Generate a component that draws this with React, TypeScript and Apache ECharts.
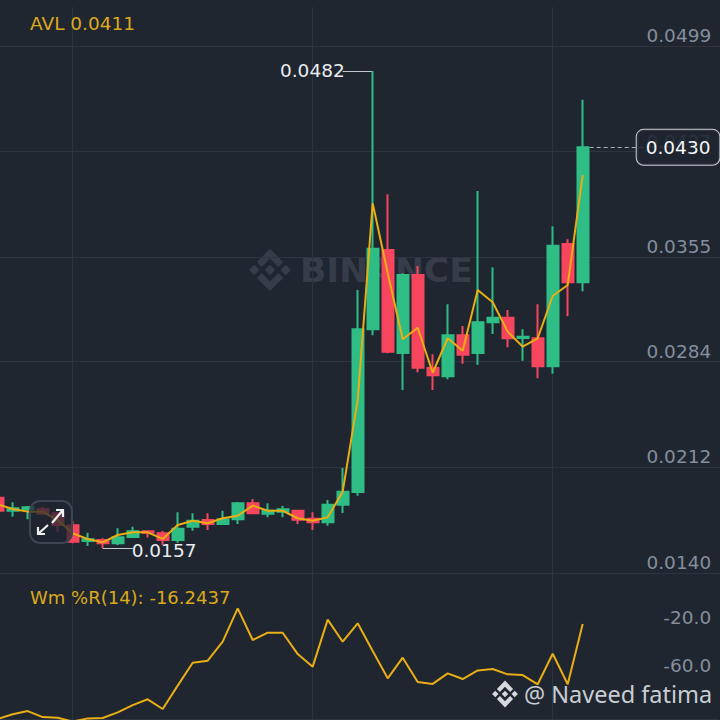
import React, { useEffect, useRef } from "react";
import * as echarts from "echarts";

const opens = [0.01913,0.01824,0.01834,0.01834,0.01807,0.01725,0.01618,0.01625,0.01602,0.01645,0.01684,0.01671,0.01625,0.01715,0.01761,0.01734,0.01766,0.01875,0.01804,0.01818,0.01824,0.0177,0.01745,0.01865,0.01952,0.0306,0.036,0.02899,0.0343,0.02797,0.0274,0.03019,0.02899,0.03108,0.03139,0.03001,0.02999,0.02808,0.03641,0.0338];
const closes = [0.01824,0.01841,0.01848,0.01804,0.01727,0.01613,0.0163,0.01602,0.01643,0.01684,0.01675,0.01625,0.01702,0.01756,0.01734,0.01766,0.01875,0.01807,0.01824,0.01834,0.01763,0.01745,0.01865,0.01954,0.0306,0.03609,0.02908,0.0343,0.02799,0.02747,0.03019,0.02887,0.03108,0.03139,0.02999,0.0301,0.02808,0.0363,0.0338,0.043];
const lows = [0.01802,0.01784,0.01766,0.01795,0.01681,0.01602,0.01584,0.01568,0.01591,0.01641,0.01641,0.01591,0.01606,0.01688,0.01693,0.01727,0.01734,0.01802,0.01779,0.01779,0.01734,0.01693,0.01722,0.01809,0.01927,0.03019,0.02897,0.02647,0.02767,0.02647,0.0272,0.02826,0.02819,0.03028,0.02937,0.02846,0.02726,0.02758,0.03149,0.03319];
const highs = [0.01925,0.01882,0.01856,0.01852,0.01811,0.01754,0.01675,0.01636,0.01705,0.01715,0.01688,0.01686,0.01814,0.01807,0.01807,0.01824,0.01884,0.01904,0.01875,0.01856,0.01829,0.01814,0.01897,0.02115,0.03328,0.0482,0.0398,0.03442,0.03491,0.0289,0.0323,0.03083,0.04002,0.03482,0.03192,0.0306,0.0323,0.03762,0.03673,0.04624];
const avl = [0.01868,0.01836,0.01818,0.01818,0.01761,0.0167,0.01632,0.01609,0.01659,0.01677,0.01677,0.01632,0.01727,0.01756,0.01739,0.01773,0.0179,0.01859,0.01824,0.01824,0.01773,0.01756,0.01779,0.01954,0.02579,0.03918,0.03444,0.02992,0.03071,0.02764,0.02999,0.02914,0.03328,0.03244,0.03044,0.02942,0.02999,0.03287,0.03362,0.04111];
const wmr = [-95.4,-91.5,-88.8,-93.8,-94.3,-97.6,-94.9,-94.6,-89.9,-83.8,-79.0,-87.1,-67.6,-48.5,-46.8,-31.0,-3.2,-29.6,-23.5,-23.5,-41.3,-51.8,-12.6,-31.0,-15.7,-38.8,-61.5,-44.3,-64.6,-66.2,-57.4,-62.1,-54.9,-53.8,-58.2,-58.8,-66.5,-41.0,-66.5,-16.24];
const priceTicks = [0.014, 0.0212, 0.0284, 0.0355, 0.0427, 0.0499];
const wmrTicks = [-60, -20];
const verticalGridSlots = [5, 21, 37];
const slotCount = 49;
const categories = Array.from({ length: slotCount }, (_, i) => String(i));
const lastPrice = 0.043;
const highPrice = 0.0482;
const lowPrice = 0.0157;

const BG = "#1f2630";
const GRID = "#2d343e";
const UP = "#2EBD85";
const DOWN = "#F6465D";
const YELLOW = "#E9AE14";
const TICK = "#848E9C";
const FONT = "'DejaVu Sans', sans-serif";

const LOGO =
  "M50 38L62 50L50 62L38 50Z M14 38L26 50L14 62L2 50Z M86 38L98 50L86 62L74 50Z M50 2L80 32L69 43L50 24L31 43L20 32Z M50 98L80 68L69 57L50 76L31 57L20 68Z";
const ARROWS =
  "M52 523L63 510M56 510L63 510L63 517M48 525L38 534M38 527L38 534L45 534";

echarts.graphic.registerShape("binanceLogo", (echarts.graphic as any).extendPath(LOGO, {}));
echarts.graphic.registerShape("expandArrows", (echarts.graphic as any).extendPath(ARROWS, {}));

export default function App() {
  const ref = useRef<HTMLDivElement>(null);
  useEffect(() => {
    document.body.style.margin = "0";
    const chart = echarts.init(ref.current!, undefined, { renderer: "svg" });
    const leader = { color: "#c4c8ce", width: 1, type: "solid" as const };
    const leaderLabel = {
      show: true,
      position: "end" as const,
      color: "#EAECEF",
      fontFamily: FONT,
      fontSize: 18.5,
      distance: 0,
      formatter: (p: any) => p.value.toFixed(4),
    };
    chart.setOption({
      animation: false,
      backgroundColor: BG,
      grid: [
        { left: -9.8, top: 46, width: 15 * slotCount, height: 527, outerBoundsMode: "none" },
        { left: -9.8, top: 604.5, width: 15 * slotCount, height: 120, outerBoundsMode: "none" },
        { left: -2.3, top: 7, width: 15 * (slotCount - 1), height: 713, outerBoundsMode: "none" },
      ],
      xAxis: [
        { type: "category", gridIndex: 0, data: categories, show: false },
        { type: "category", gridIndex: 1, data: categories, show: false },
        {
          type: "category",
          gridIndex: 2,
          data: categories,
          boundaryGap: false,
          position: "top",
          axisLine: { show: true, lineStyle: { color: GRID, width: 2 } },
          axisTick: { show: false },
          axisLabel: { show: false },
          splitLine: {
            show: true,
            interval: (i: number) => verticalGridSlots.includes(i),
            lineStyle: { color: GRID, width: 1 },
          },
        },
      ],
      yAxis: [
        {
          type: "value",
          gridIndex: 0,
          position: "right",
          min: priceTicks[0],
          max: priceTicks[priceTicks.length - 1],
          axisLine: { show: false },
          axisTick: { show: false, customValues: priceTicks },
          splitLine: { show: true, lineStyle: { color: GRID, width: 1 } },
          axisLabel: {
            inside: true,
            margin: 14,
            customValues: priceTicks,
            formatter: (v: number) => v.toFixed(4),
            color: TICK,
            fontFamily: FONT,
            fontSize: 18.5,
            verticalAlign: "bottom",
            padding: [0, 0, 1, 0],
          },
        },
        {
          type: "value",
          gridIndex: 1,
          position: "right",
          min: -100,
          max: 0,
          axisLine: { show: false },
          axisTick: { show: false, customValues: wmrTicks },
          splitLine: { show: false },
          axisLabel: {
            inside: true,
            margin: 14,
            customValues: wmrTicks,
            formatter: (v: number) => v.toFixed(1),
            color: TICK,
            fontFamily: FONT,
            fontSize: 18.5,
            verticalAlign: "bottom",
            padding: [0, 0, 2, 0],
          },
        },
        { type: "value", gridIndex: 2, min: 0, max: 1, show: false },
      ],
      series: [
        {
          type: "line",
          name: "marks",
          xAxisIndex: 0,
          yAxisIndex: 0,
          z: 1,
          data: [],
          silent: true,
          markLine: {
            z: 1,
            silent: true,
            symbol: "none",
            precision: 5,
            data: [
              [
                {
                  coord: ["39", lastPrice],
                  value: lastPrice,
                  lineStyle: { color: "#aab0b8", width: 1, type: [4, 3] },
                  label: {
                    show: true,
                    position: "end",
                    distance: 0,
                    offset: [-6, 0],
                    color: "#F5F6F7",
                    fontFamily: FONT,
                    fontSize: 18.5,
                    backgroundColor: "rgba(31,38,48,0.88)",
                    borderColor: "#c8ccd2",
                    borderWidth: 1,
                    borderRadius: 7,
                    padding: [8, 9],
                    formatter: (p: any) => p.value.toFixed(4),
                  },
                },
                { coord: ["43", lastPrice] },
              ],
              [
                { coord: ["25", highPrice], value: highPrice, lineStyle: leader, label: { ...leaderLabel, offset: [2, 0] } },
                { coord: ["23", highPrice] },
              ],
              [
                { coord: ["7", lowPrice], value: lowPrice, lineStyle: leader, label: { ...leaderLabel, offset: [-1, 2] } },
                { coord: ["9", lowPrice] },
              ],
            ],
          },
        },
        {
          type: "candlestick",
          xAxisIndex: 0,
          yAxisIndex: 0,
          barWidth: 11.5,
          z: 2,
          data: opens.map((o, i) => [o, closes[i], lows[i], highs[i]]),
          itemStyle: {
            color: UP,
            color0: DOWN,
            borderColor: UP,
            borderColor0: DOWN,
            borderWidth: 2,
          },
        },
        {
          type: "line",
          xAxisIndex: 0,
          yAxisIndex: 0,
          z: 3,
          data: avl,
          showSymbol: false,
          lineStyle: { color: YELLOW, width: 2 },
        },
        {
          type: "line",
          xAxisIndex: 1,
          yAxisIndex: 1,
          z: 3,
          data: wmr,
          showSymbol: false,
          lineStyle: { color: YELLOW, width: 2 },
        },
      ],
      graphic: [
        {
          type: "binanceLogo",
          x: 248,
          y: 248,
          scaleX: 0.44,
          scaleY: 0.44,
          z: 0,
          silent: true,
          style: { fill: "#363d48" },
        },
        {
          type: "text",
          x: 300,
          y: 270,
          z: 0,
          silent: true,
          style: {
            text: "BINANCE",
            fill: "#363d48",
            font: "700 34.6px 'DejaVu Sans', sans-serif",
            textAlign: "left",
            textVerticalAlign: "middle",
          },
        },
        {
          type: "text",
          x: 30,
          y: 23.5,
          z: 10,
          style: {
            text: "AVL 0.0411",
            fill: "#DCA91C",
            font: "400 18.5px 'DejaVu Sans', sans-serif",
            textVerticalAlign: "middle",
          },
        },
        {
          type: "text",
          x: 30,
          y: 597,
          z: 10,
          style: {
            text: "Wm %R(14): -16.2437",
            fill: "#DCA91C",
            font: "400 18px 'DejaVu Sans', sans-serif",
            textVerticalAlign: "middle",
          },
        },
        {
          type: "rect",
          z: 10,
          shape: { x: 30, y: 501, width: 42, height: 42, r: 10 },
          style: { fill: "rgba(31,38,48,0.72)", stroke: "#3e4550", lineWidth: 2 },
        },
        {
          type: "expandArrows",
          z: 11,
          style: { fill: "none", stroke: "#eef0f2", lineWidth: 2.2 },
        },
        {
          type: "binanceLogo",
          x: 491.5,
          y: 680,
          scaleX: 0.27,
          scaleY: 0.28,
          z: 12,
          style: { fill: "#d5d9de" },
        },
        {
          type: "text",
          x: 524,
          y: 694,
          z: 12,
          style: {
            text: "@ Naveed fatima",
            fill: "#c9cdd3",
            font: "400 23.5px 'Noto Sans', sans-serif",
            textVerticalAlign: "middle",
          },
        },
      ],
    });
    return () => chart.dispose();
  }, []);
  return (
    <div
      ref={ref}
      style={{ position: "fixed", left: 0, top: 0, width: 720, height: 720 }}
    />
  );
}
